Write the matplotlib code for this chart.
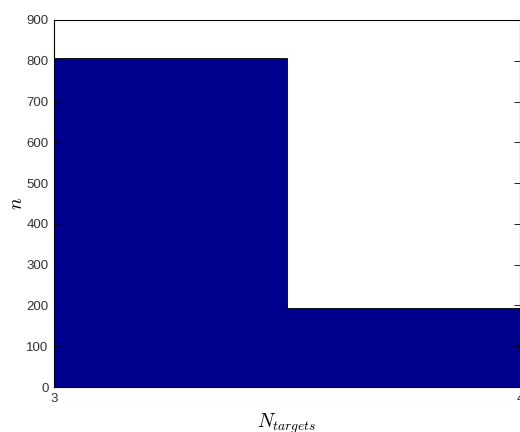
import matplotlib
matplotlib.use("Agg")
import matplotlib.pyplot as plt

plt.rcParams["mathtext.fontset"] = "cm"

# Histogram of target counts per trial
bin_edges = [3.0, 3.5, 4.0]
counts = [807, 193]
x_ticks = [3, 4]
y_ticks = list(range(0, 901, 100))

fig = plt.figure(figsize=(5.2, 4.32), dpi=100)
ax = fig.add_axes([54 / 520, 45 / 432, 466 / 520, 367 / 432])

lefts = bin_edges[:-1]
widths = [b - a for a, b in zip(bin_edges[:-1], bin_edges[1:])]
ax.bar(lefts, counts, width=widths, align="edge",
       color="#00008f", edgecolor="black", linewidth=0.6)

ax.set_xlim(3, 4)
ax.set_ylim(0, 900)
ax.set_xticks(x_ticks)
ax.set_yticks(y_ticks)
ax.tick_params(direction="in", length=4, width=0.6, top=True, right=True,
               labelsize=9.5, labelcolor="#333333", pad=4,
               labelfontfamily="Liberation Sans")
for s in ax.spines.values():
    s.set_linewidth(0.8)

ax.set_xlabel(r"$N_{targets}$", fontsize=14, labelpad=5)
ax.set_ylabel(r"$n$", fontsize=14, labelpad=0)

fig.savefig("out.png", dpi=100)
